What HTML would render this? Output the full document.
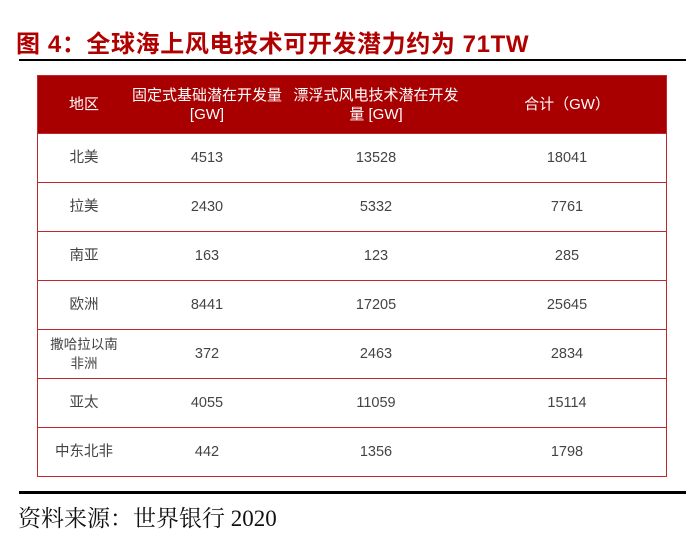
<!DOCTYPE html>
<html><head><meta charset="utf-8"><style>
body{margin:0;width:692px;height:538px;background:#fff;position:relative;overflow:hidden;font-family:"Liberation Sans","Noto Sans CJK SC",sans-serif}
.t{position:absolute;left:16px;top:24px;font-size:24px;font-weight:bold;color:#b00000;white-space:nowrap;letter-spacing:0.6px}
.r1{position:absolute;left:19px;top:59px;width:667px;height:2px;background:#000}
.r2{position:absolute;left:19px;top:491px;width:667px;height:3px;background:#000}
.src{position:absolute;left:18px;top:500px;font-size:23px;font-family:"Liberation Serif","Noto Serif CJK SC",serif;color:#111}
.tb{position:absolute;left:37px;top:75px;width:630px;border:1px solid #c0282e;box-sizing:border-box}
.h{height:57px;background:#a80000;color:#fff;position:relative;font-size:15px}
.row{height:49px;border-top:1px solid #c0282e;position:relative;color:#444;font-size:14.5px;box-sizing:border-box}
.c{position:absolute;top:0;height:100%;display:flex;align-items:center;justify-content:center;text-align:center;line-height:19px}
.c1{left:0;width:92px}.c2{left:92px;width:154px}.c3{left:246px;width:184px}.c4{left:430px;width:198px}
</style></head><body>
<div class="t">图 4：全球海上风电技术可开发潜力约为 71TW</div>
<div class="r1"></div>
<div class="tb">
<div class="h"><div class="c c1">地区</div><div class="c c2">固定式基础潜在开发量<br>[GW]</div><div class="c c3">漂浮式风电技术潜在开发<br>量 [GW]</div><div class="c c4">合计（GW）</div></div>
<div class="row"><div class="c c1">北美</div><div class="c c2">4513</div><div class="c c3">13528</div><div class="c c4">18041</div></div>
<div class="row"><div class="c c1">拉美</div><div class="c c2">2430</div><div class="c c3">5332</div><div class="c c4">7761</div></div>
<div class="row"><div class="c c1">南亚</div><div class="c c2">163</div><div class="c c3">123</div><div class="c c4">285</div></div>
<div class="row"><div class="c c1">欧洲</div><div class="c c2">8441</div><div class="c c3">17205</div><div class="c c4">25645</div></div>
<div class="row"><div class="c c1" style="font-size:13.5px">撒哈拉以南<br>非洲</div><div class="c c2">372</div><div class="c c3">2463</div><div class="c c4">2834</div></div>
<div class="row"><div class="c c1">亚太</div><div class="c c2">4055</div><div class="c c3">11059</div><div class="c c4">15114</div></div>
<div class="row"><div class="c c1">中东北非</div><div class="c c2">442</div><div class="c c3">1356</div><div class="c c4">1798</div></div>
</div>
<div class="r2"></div>
<div class="src">资料来源：世界银行 2020</div>
</body></html>
